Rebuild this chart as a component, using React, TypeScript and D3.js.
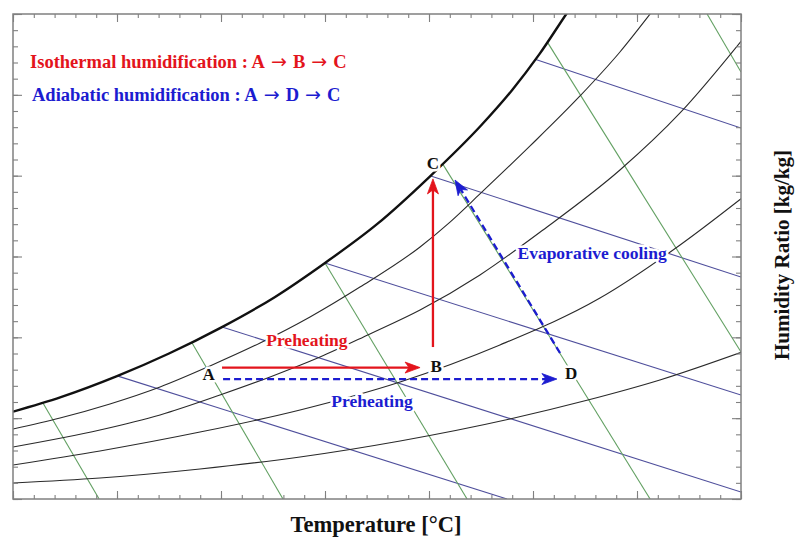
import React, { useEffect, useRef } from "react";
import * as d3 from "d3";

// ---- Chart frame ----
const WIDTH = 796;
const HEIGHT = 538;
const PLOT_LEFT = 13;
const PLOT_RIGHT = 741;
const PLOT_TOP = 14;
const PLOT_BOTTOM = 499;

// ---- Axis domains (dry-bulb temperature in °C, humidity ratio in kg/kg) ----
const temperatureDomain: [number, number] = [0, 35];
const humidityDomain: [number, number] = [0, 0.03];

// ---- Saturation curve (T, w) ----
const saturationCurve: [number, number][] = [
  [0, 0.0054], [2.3, 0.0063], [5, 0.0076], [7.5, 0.009], [10, 0.0106],
  [12.6, 0.0125], [15, 0.0146], [17.5, 0.017], [20, 0.0199], [22.5, 0.0231],
  [24, 0.0253], [25.3, 0.0275], [26.6, 0.03], [26.9, 0.03057],
];

// ---- Relative humidity curves (T, w) ----
const rhCurve1: [number, number][] = [
  [0, 0.00433], [2.26, 0.00501], [4.66, 0.00588], [7.07, 0.00693], [9.47, 0.00823],
  [11.88, 0.00965], [14.28, 0.01126], [16.68, 0.01311], [19.57, 0.01559], [21.01, 0.01713],
  [22.45, 0.01887], [24.86, 0.02184], [27.26, 0.02493], [29.18, 0.02765], [30.63, 0.03], [30.9, 0.03045],
];
const rhCurve2: [number, number][] = [
  [0, 0.00322], [4.18, 0.00427], [7.07, 0.0052], [9.95, 0.00643], [12.36, 0.00755],
  [14.76, 0.00878], [17.16, 0.01021], [19.57, 0.01169], [22.45, 0.01386], [25.48, 0.01664],
  [29.18, 0.02035], [32.07, 0.02388], [35.05, 0.02839],
];
const rhCurve3: [number, number][] = [
  [0, 0.0021], [4.18, 0.00297], [8.99, 0.00414], [13.8, 0.00551], [18.61, 0.00724],
  [23.41, 0.00953], [28.22, 0.01243], [32.07, 0.01571], [35.05, 0.01862],
];
const rhCurve4: [number, number][] = [
  [0, 0.00099], [4.18, 0.0013], [8.99, 0.00186], [13.8, 0.0026], [18.61, 0.00359],
  [23.89, 0.00495], [27.64, 0.00612], [31.1, 0.00736], [35.05, 0.00909],
];
const rhCurves = [rhCurve1, rhCurve2, rhCurve3, rhCurve4];

// ---- Constant-enthalpy lines (start on saturation, T, w) ----
const enthalpyLines: [number, number][][] = [
  [[5.05, 0.0076], [23.75, 0]],
  [[10.05, 0.01064], [35, 0.00043]],
  [[15, 0.0146], [35, 0.00643]],
  [[20.05, 0.02], [35, 0.01373]],
  [[25.1, 0.0272], [35, 0.02295]],
];

// ---- Constant wet-bulb lines (T, w) ----
const wetBulbLines: [number, number][][] = [
  [[1.44, 0.00594], [4.14, 0]],
  [[8.61, 0.00965], [12.98, 0]],
  [[15, 0.0146], [21.83, 0]],
  [[20.67, 0.0207], [30.63, 0]],
  [[25.72, 0.0282], [35, 0.00909]],
  [[33.37, 0.03], [35, 0.02641]],
];

// ---- Process paths (T, w) ----
const isothermalSegments: { from: [number, number]; to: [number, number] }[] = [
  { from: [10.05, 0.00813], to: [19.57, 0.00813] },
  { from: [20.19, 0.0094], to: [20.19, 0.0198] },
];
const adiabaticSegments: { from: [number, number]; to: [number, number] }[] = [
  { from: [10.1, 0.00742], to: [26.15, 0.00742] },
  { from: [26.3, 0.00903], to: [21.25, 0.01973] },
];

// ---- State point labels ----
const stateNames = ["A", "B", "C", "D"];
const stateTemps = [9.4, 20.34, 20.19, 26.83];
const stateHumidity = [0.00773, 0.00817, 0.02078, 0.00779];

// ---- Process labels ----
const processTexts = ["Preheating", "Preheating", "Evaporative cooling"];
const processTemps = [14.13, 17.26, 27.84];
const processHumidity = [0.00984, 0.00606, 0.01522];
const processKinds = ["isothermal", "adiabatic", "adiabatic"];

// ---- Legend: label, then the sequence of states ----
const legendLabels = ["Isothermal humidification : ", "Adiabatic humidification : "];
const legendSequences = [["A", "B", "C"], ["A", "D", "C"]];

const RED = "#e3141c";
const BLUE = "#1c1cd0";
const ENTHALPY_COLOR = "#4f4f9c";
const WETBULB_COLOR = "#62a062";
const FRAME_COLOR = "#808080";
const FONT = "'Liberation Serif', 'Times New Roman', serif";

const x = d3.scaleLinear().domain(temperatureDomain).range([PLOT_LEFT, PLOT_RIGHT]);
const y = d3.scaleLinear().domain(humidityDomain).range([PLOT_BOTTOM, PLOT_TOP]);

const smoothLine = d3
  .line<[number, number]>()
  .x((d) => x(d[0]))
  .y((d) => y(d[1]))
  .curve(d3.curveMonotoneX);

const straightLine = d3
  .line<[number, number]>()
  .x((d) => x(d[0]))
  .y((d) => y(d[1]));

function Arrow({
  from,
  to,
  color,
  dashed,
}: {
  from: [number, number];
  to: [number, number];
  color: string;
  dashed?: boolean;
}) {
  const x0 = x(from[0]);
  const y0 = y(from[1]);
  const x1 = x(to[0]);
  const y1 = y(to[1]);
  const len = Math.hypot(x1 - x0, y1 - y0);
  const ux = (x1 - x0) / len;
  const uy = (y1 - y0) / len;
  const px = -uy;
  const py = ux;
  const headLen = 15;
  const headHalf = 5.5;
  const notch = 4;
  const bx = x1 - ux * headLen;
  const by = y1 - uy * headLen;
  const nx = x1 - ux * (headLen - notch);
  const ny = y1 - uy * (headLen - notch);
  const head = `M${x1},${y1}L${bx + px * headHalf},${by + py * headHalf}L${nx},${ny}L${bx - px * headHalf},${by - py * headHalf}Z`;
  return (
    <g>
      <line
        x1={x0}
        y1={y0}
        x2={nx}
        y2={ny}
        stroke={color}
        strokeWidth={2.3}
        strokeDasharray={dashed ? "7,4" : undefined}
      />
      <path d={head} fill={color} stroke={color} strokeWidth={0.8} strokeLinejoin="miter" />
    </g>
  );
}

function LegendLine({ label, states, x0, y0, color }: { label: string; states: string[]; x0: number; y0: number; color: string }) {
  return (
    <text x={x0} y={y0} fill={color}>
      {label}
      {states.map((s, i) => (
        <React.Fragment key={i}>
          {i > 0 && (
            <tspan fontFamily="'DejaVu Sans', sans-serif" fontWeight="normal" fontSize={19}>
              {" \u2192 "}
            </tspan>
          )}
          <tspan>{s}</tspan>
        </React.Fragment>
      ))}
    </text>
  );
}

export default function App() {
  const axesRef = useRef<SVGGElement>(null);

  useEffect(() => {
    const g = d3.select(axesRef.current);
    g.selectAll("*").remove();
    const minorT = x.ticks(35);
    const majorT = x.ticks(7);
    const minorW = y.ticks(30);
    const majorW = y.ticks(6);

    const specs: [any, string, number[], number][] = [
      [d3.axisBottom(x), `translate(0,${PLOT_BOTTOM})`, minorT, -4],
      [d3.axisBottom(x), `translate(0,${PLOT_BOTTOM})`, majorT, -8],
      [d3.axisTop(x), `translate(0,${PLOT_TOP})`, minorT, -4],
      [d3.axisTop(x), `translate(0,${PLOT_TOP})`, majorT, -8],
      [d3.axisLeft(y), `translate(${PLOT_LEFT},0)`, minorW, -5],
      [d3.axisLeft(y), `translate(${PLOT_LEFT},0)`, majorW, -9],
      [d3.axisRight(y), `translate(${PLOT_RIGHT},0)`, minorW, -5],
      [d3.axisRight(y), `translate(${PLOT_RIGHT},0)`, majorW, -9],
    ];
    specs.forEach(([axis, transform, values, size]) => {
      const a = g
        .append("g")
        .attr("transform", transform)
        .call(axis.tickValues(values).tickSize(size).tickSizeOuter(0).tickFormat(() => ""));
      a.select(".domain").remove();
      a.selectAll("line").attr("stroke", FRAME_COLOR).attr("stroke-width", 1.1);
    });
  }, []);

  const halo = {
    stroke: "#ffffff",
    strokeWidth: 5,
    strokeLinejoin: "round" as const,
    paintOrder: "stroke",
  };

  return (
    <svg
      width={WIDTH}
      height={HEIGHT}
      style={{ position: "absolute", left: 0, top: 0, background: "#fff" }}
      fontFamily={FONT}
    >
      <defs>
        <clipPath id="plot-clip">
          <rect x={PLOT_LEFT} y={PLOT_TOP} width={PLOT_RIGHT - PLOT_LEFT} height={PLOT_BOTTOM - PLOT_TOP} />
        </clipPath>
      </defs>
      <rect width={WIDTH} height={HEIGHT} fill="#fff" />

      <g clipPath="url(#plot-clip)" fill="none">
        {enthalpyLines.map((d, i) => (
          <path key={`h${i}`} d={straightLine(d) || ""} stroke={ENTHALPY_COLOR} strokeWidth={1.1} />
        ))}
        {wetBulbLines.map((d, i) => (
          <path key={`wb${i}`} d={straightLine(d) || ""} stroke={WETBULB_COLOR} strokeWidth={1.1} />
        ))}
        {rhCurves.map((d, i) => (
          <path key={`rh${i}`} d={smoothLine(d) || ""} stroke="#2a2a2a" strokeWidth={1.1} />
        ))}
        <path d={smoothLine(saturationCurve) || ""} stroke="#111" strokeWidth={2.4} />
      </g>

      {/* state point and process labels */}
      <g fontWeight="bold" textAnchor="middle" dominantBaseline="central">
        {stateNames.map((n, i) => (
          <text key={n} x={x(stateTemps[i])} y={y(stateHumidity[i])} fontSize={17} fill="#111" style={halo}>
            {n}
          </text>
        ))}
        {processTexts.map((t, i) => (
          <text
            key={`p${i}`}
            x={x(processTemps[i])}
            y={y(processHumidity[i])}
            fontSize={17.5}
            fill={processKinds[i] === "isothermal" ? RED : BLUE}
            style={halo}
          >
            {t}
          </text>
        ))}
      </g>

      {isothermalSegments.map((s, i) => (
        <Arrow key={`iso${i}`} from={s.from} to={s.to} color={RED} />
      ))}
      {adiabaticSegments.map((s, i) => (
        <Arrow key={`adi${i}`} from={s.from} to={s.to} color={BLUE} dashed />
      ))}

      {/* legend */}
      <g fontWeight="bold" fontSize={18.5}>
        <LegendLine label={legendLabels[0]} states={legendSequences[0]} x0={30} y0={68} color={RED} />
        <LegendLine label={legendLabels[1]} states={legendSequences[1]} x0={32} y0={101} color={BLUE} />
      </g>

      <g ref={axesRef} />
      <rect
        x={PLOT_LEFT}
        y={PLOT_TOP}
        width={PLOT_RIGHT - PLOT_LEFT}
        height={PLOT_BOTTOM - PLOT_TOP}
        fill="none"
        stroke={FRAME_COLOR}
        strokeWidth={1.5}
      />

      {/* axis titles */}
      <text x={376} y={532} textAnchor="middle" fontWeight="bold" fontSize={22.5} fill="#111">
        Temperature [°C]
      </text>
      <text
        transform={`translate(789,255) rotate(-90)`}
        textAnchor="middle"
        fontWeight="bold"
        fontSize={21}
        fill="#111"
      >
        Humidity Ratio [kg/kg]
      </text>
    </svg>
  );
}
